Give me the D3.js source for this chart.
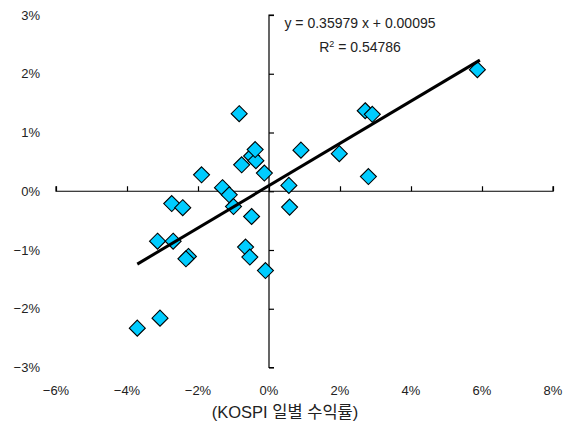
<!DOCTYPE html>
<html>
<head>
<meta charset="utf-8">
<script src="https://cdn.jsdelivr.net/npm/d3@7"></script>
<style>
  html, body { margin: 0; padding: 0; background: #fff; }
  text { font-family: "Liberation Sans", Arial, sans-serif; fill: #222; }
</style>
</head>
<body>
<svg id="chart" width="574" height="425"></svg>
<script>
// KOSPI daily return (x, %) vs. stock daily return (y, %)
const kospiReturn = [-3.71, -3.07, -3.14, -2.70, -2.27, -2.34, -2.74, -2.43, -1.90, -1.31,
                     -1.12, -1.00, -0.84, -0.77, -0.49, -0.37, -0.39, -0.13, -0.49, -0.66,
                     -0.54, -0.10, 0.56, 0.58, 0.90, 1.98, 2.71, 2.91, 2.80, 5.87];
const stockReturn = [-2.33, -2.16, -0.85, -0.85, -1.11, -1.15, -0.21, -0.28, 0.28, 0.06,
                     -0.06, -0.26, 1.32, 0.45, 0.60, 0.52, 0.71, 0.31, -0.43, -0.95,
                     -1.12, -1.35, 0.10, -0.27, 0.70, 0.64, 1.37, 1.31, 0.25, 2.07];

// Fitted trend line
const slope = 0.35979;
const intercept = 0.00095;
const rSquared = 0.54786;

const xTicks = [-6, -4, -2, 0, 2, 4, 6, 8];
const yTicks = [-3, -2, -1, 0, 1, 2, 3];
const xAxisTitle = "(KOSPI 일별 수익률)";

const svg = d3.select("#chart");
const x = d3.scaleLinear().domain([-6, 8]).range([56, 553]);
const y = d3.scaleLinear().domain([-3, 3]).range([367.5, 15]);
const fmt = v => (v < 0 ? "\u2212" : "") + Math.abs(v) + "%";

// Horizontal axis through y = 0, ticks pointing up
const xAxis = svg.append("g")
  .attr("transform", `translate(0,${y(0)})`)
  .call(d3.axisTop(x).tickValues(xTicks).tickSize(5).tickFormat(""));
xAxis.select(".domain").attr("d", `M${x(-6)},-5V0H${x(8)}V-5`);

// Vertical axis through x = 0, ticks pointing right
const yAxis = svg.append("g")
  .attr("transform", `translate(${x(0)},0)`)
  .call(d3.axisRight(y).tickValues(yTicks).tickSize(5).tickFormat(""));
yAxis.select(".domain").attr("d", `M5,${y(3)}H0V${y(-3)}H5`);

svg.selectAll(".domain, .tick line").attr("stroke", "#000").attr("stroke-width", 1.2);

// Tick labels placed at the plot edges
svg.append("g").selectAll("text").data(xTicks).join("text")
  .attr("x", d => x(d)).attr("y", 395)
  .attr("text-anchor", "middle").attr("font-size", 13)
  .text(fmt);

svg.append("g").selectAll("text").data(yTicks).join("text")
  .attr("x", 40).attr("y", d => y(d) + 4.5)
  .attr("text-anchor", "end").attr("font-size", 13)
  .text(fmt);

svg.append("text")
  .attr("x", 285).attr("y", 418)
  .attr("text-anchor", "middle").attr("font-size", 16.5)
  .style("font-family", "'Liberation Sans', 'Noto Sans CJK KR', sans-serif")
  .text(xAxisTitle);

// Scatter points (rotated squares)
const pts = kospiReturn.map((v, i) => [v, stockReturn[i]]);
const h = 8;
svg.append("g").selectAll("path").data(pts).join("path")
  .attr("d", d => `M${x(d[0])},${y(d[1]) - h}L${x(d[0]) + h},${y(d[1])}L${x(d[0])},${y(d[1]) + h}L${x(d[0]) - h},${y(d[1])}Z`)
  .attr("fill", "#00CCFF").attr("stroke", "#000").attr("stroke-width", 1.1);

// Trend line across the data range
const xMin = d3.min(kospiReturn), xMax = d3.max(kospiReturn);
const line = d3.line().x(d => x(d)).y(d => y(slope * d + intercept * 100));
svg.append("path")
  .datum([xMin, xMax + 0.07])
  .attr("d", line)
  .attr("stroke", "#000").attr("stroke-width", 3).attr("fill", "none");

// Equation annotation
svg.append("text")
  .attr("x", 360).attr("y", 28).attr("text-anchor", "middle").attr("font-size", 14)
  .text(`y = ${slope} x + ${intercept.toFixed(5)}`);
const r2 = svg.append("text")
  .attr("x", 360).attr("y", 52).attr("text-anchor", "middle").attr("font-size", 14);
r2.append("tspan").text("R");
r2.append("tspan").attr("dy", -5).attr("font-size", 9).text("2");
r2.append("tspan").attr("dy", 5).text(` = ${rSquared}`);
</script>
</body>
</html>
